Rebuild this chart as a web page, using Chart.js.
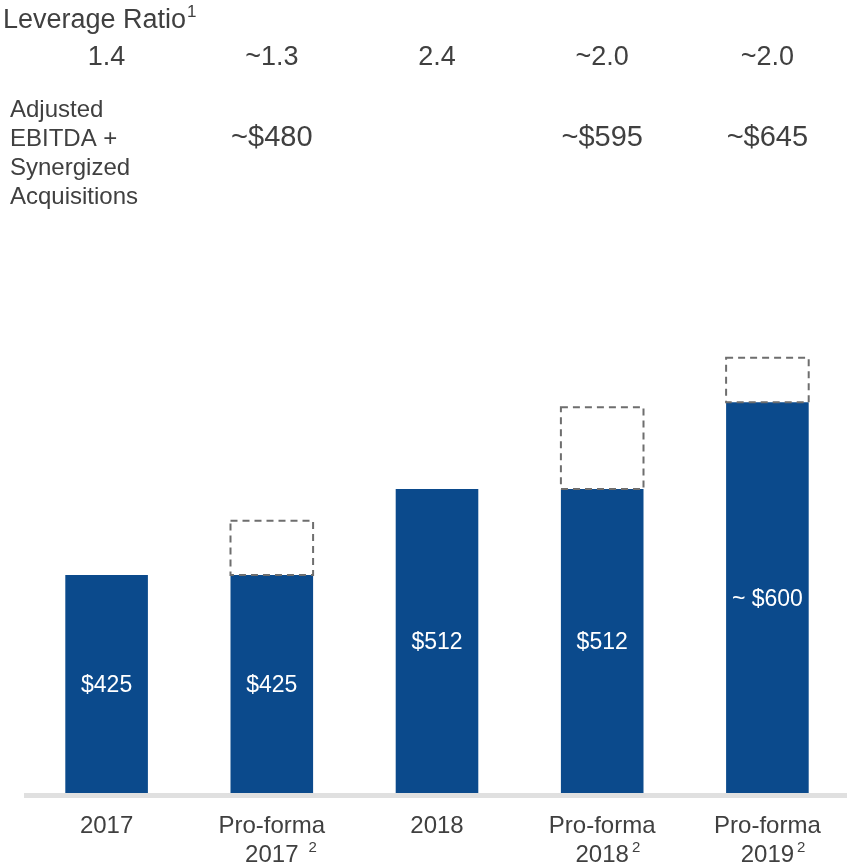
<!DOCTYPE html>
<html>
<head>
<meta charset="utf-8">
<script src="https://cdn.jsdelivr.net/npm/chart.js@4"></script>
<style>
  html, body { margin: 0; padding: 0; background: #fff; overflow: hidden; }
  #wrap { width: 852px; height: 864px; }
</style>
</head>
<body>
<div id="wrap"><canvas id="myChart" width="852" height="864"></canvas></div>
<script>
// données
const categories = [["2017"], ["Pro-forma", "2017"], ["2018"], ["Pro-forma", "2018"], ["Pro-forma", "2019"]];
const footnotes = ["", "2", "", "2", "2"];
const baseValues = [425, 425, 512, 512, 600];
const baseLabels = ["$425", "$425", "$512", "$512", "~ $600"];
const synergyTotals = [null, 480, null, 595, 645];
const leverage = ["1.4", "~1.3", "2.4", "~2.0", "~2.0"];
const ebitdaLabels = ["", "~$480", "", "~$595", "~$645"];

const synergyExtra = synergyTotals.map((t, i) => (t === null ? 0 : t - baseValues[i]));

const FONT = "'Liberation Sans', Arial, sans-serif";
const TEXT = "#404040";

const overlay = {
  id: "overlay",
  beforeDatasetsDraw(chart) {
    const ctx = chart.ctx;
    const a = chart.chartArea;
    ctx.save();
    ctx.fillStyle = "#e0e0e0";
    ctx.fillRect(a.left, a.bottom, chart.width - a.left, 5);
    ctx.restore();
  },
  afterDatasetsDraw(chart) {
    const ctx = chart.ctx;
    const xs = chart.scales.x;
    const a = chart.chartArea;
    ctx.save();

    // boîtes pointillées des acquisitions
    const meta = chart.getDatasetMeta(1);
    ctx.strokeStyle = "#6e6e6e";
    ctx.lineWidth = 2;
    ctx.setLineDash([7, 5]);
    meta.data.forEach((bar, i) => {
      if (!synergyExtra[i]) return;
      const w = bar.width;
      ctx.strokeRect(bar.x - w / 2, bar.y, w, bar.base - bar.y);
    });
    ctx.setLineDash([]);

    // valeurs dans les barres
    const m0 = chart.getDatasetMeta(0);
    ctx.fillStyle = "#ffffff";
    ctx.font = "23px " + FONT;
    ctx.textAlign = "center";
    ctx.textBaseline = "middle";
    m0.data.forEach((bar, i) => {
      const bottom = Math.min(bar.base, a.bottom);
      ctx.fillText(baseLabels[i], bar.x, (bar.y + bottom) / 2 + 2);
    });

    // titre et lignes du haut
    ctx.fillStyle = TEXT;
    ctx.textBaseline = "alphabetic";
    ctx.textAlign = "left";
    ctx.font = "27px " + FONT;
    ctx.fillText("Leverage Ratio", 3, 28);
    const tw = ctx.measureText("Leverage Ratio").width;
    ctx.font = "17px " + FONT;
    ctx.fillText("1", 3 + tw + 1, 17);

    ctx.font = "24px " + FONT;
    ["Adjusted", "EBITDA +", "Synergized", "Acquisitions"].forEach((t, k) => {
      ctx.fillText(t, 10, 117 + k * 29);
    });

    ctx.textAlign = "center";
    ctx.font = "27px " + FONT;
    leverage.forEach((t, i) => {
      ctx.fillText(t, xs.getPixelForValue(i), 65);
    });
    ctx.font = "29px " + FONT;
    ebitdaLabels.forEach((t, i) => {
      if (t) ctx.fillText(t, xs.getPixelForValue(i), 146);
    });

    // étiquettes de l'axe X
    categories.forEach((lines, i) => {
      const x = xs.getPixelForValue(i);
      lines.forEach((t, k) => {
        const y = 833 + k * 29;
        ctx.font = "24px " + FONT;
        ctx.textAlign = "center";
        ctx.fillText(t, x, y);
        if (k === lines.length - 1 && footnotes[i]) {
          const w = ctx.measureText(t).width;
          ctx.font = "15px " + FONT;
          ctx.textAlign = "left";
          ctx.fillText(footnotes[i], x + w / 2 + (i === 1 ? 10 : 3), y - 10);
        }
      });
    });
    ctx.restore();
  },
};

new Chart(document.getElementById("myChart"), {
  type: "bar",
  data: {
    labels: categories,
    datasets: [
      {
        label: "Adjusted EBITDA",
        data: baseValues,
        backgroundColor: "#0b4a8c",
        borderWidth: 0,
        barPercentage: 0.5,
        categoryPercentage: 1,
      },
      {
        label: "Synergized Acquisitions",
        data: synergyExtra,
        backgroundColor: "rgba(0,0,0,0)",
        borderWidth: 0,
        barPercentage: 0.5,
        categoryPercentage: 1,
      },
    ],
  },
  options: {
    responsive: false,
    animation: false,
    layout: { padding: { left: 24, right: 2, top: 200, bottom: 71 } },
    plugins: { legend: { display: false }, tooltip: { enabled: false } },
    scales: {
      x: { stacked: true, display: false },
      y: { stacked: true, display: false, min: 204, max: 805 },
    },
  },
  plugins: [overlay],
});
</script>
</body>
</html>
